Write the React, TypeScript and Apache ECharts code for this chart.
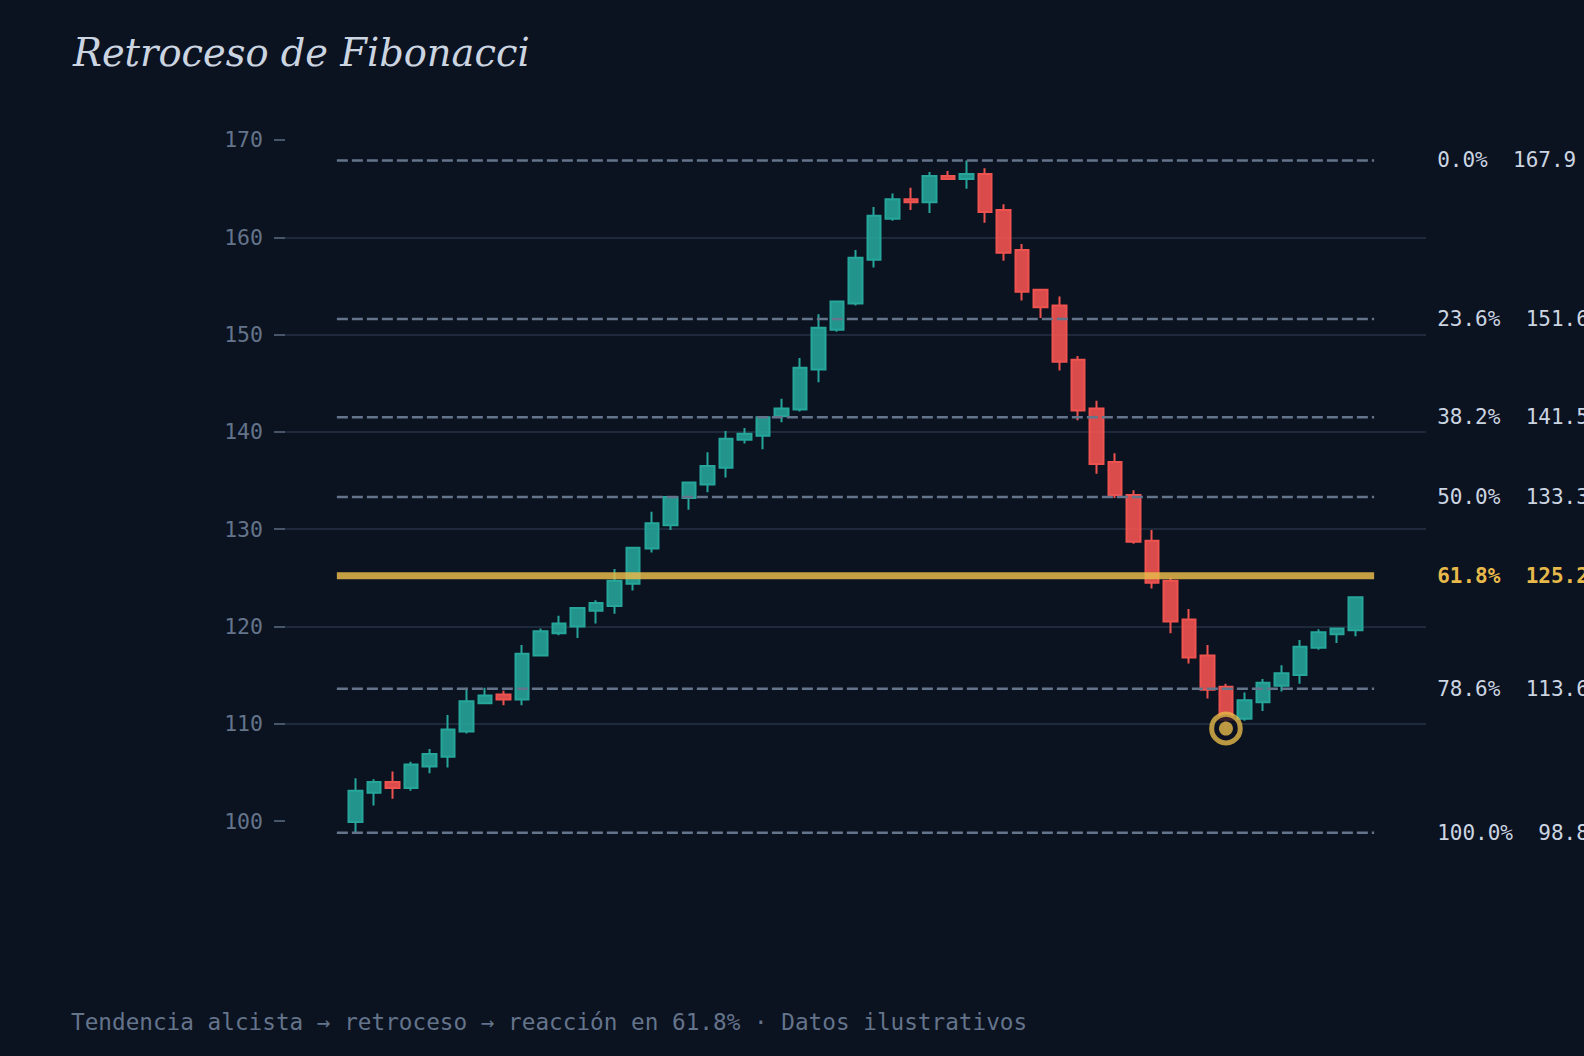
import React, { useEffect, useRef } from "react";
import * as echarts from "echarts";

// Candles (open, close, low, high), one entry per session
const opens = [
  99.9, 102.9, 104.0, 103.4, 105.6, 106.6, 109.2, 112.1, 113.0, 112.5,
  117.0, 119.3, 120.0, 121.6, 122.1, 124.4, 128.0, 130.4, 133.2, 134.6,
  136.3, 139.2, 139.6, 141.6, 142.3, 146.4, 150.5, 153.2, 157.7, 161.9,
  163.9, 163.6, 166.3, 166.0, 166.5, 162.8, 158.7, 154.6, 153.0, 147.4,
  142.4, 136.9, 133.5, 128.8, 124.7, 120.7, 117.0, 113.8, 110.5, 112.2,
  113.9, 115.0, 117.8, 119.2, 119.6,
];
const closes = [
  103.1, 104.0, 103.4, 105.8, 106.9, 109.4, 112.3, 112.9, 112.5, 117.2,
  119.5, 120.3, 121.9, 122.4, 124.7, 128.1, 130.6, 133.3, 134.8, 136.5,
  139.3, 139.8, 141.5, 142.4, 146.6, 150.7, 153.4, 157.9, 162.2, 163.9,
  163.6, 166.3, 166.0, 166.5, 162.6, 158.4, 154.4, 152.8, 147.2, 142.2,
  136.7, 133.5, 128.7, 124.5, 120.5, 116.8, 113.5, 110.4, 112.4, 114.2,
  115.2, 117.9, 119.4, 119.8, 123.0,
];
const lows = [
  98.8, 101.6, 102.3, 103.1, 104.9, 105.5, 109.0, 112.0, 111.9, 111.9,
  116.9, 119.1, 118.8, 120.3, 121.3, 123.7, 127.6, 129.9, 132.0, 133.8,
  135.3, 138.8, 138.2, 141.0, 142.1, 145.1, 150.3, 153.0, 156.9, 161.7,
  162.8, 162.5, 165.9, 165.0, 161.5, 157.6, 153.5, 151.7, 146.3, 141.2,
  135.7, 133.2, 128.5, 123.9, 119.3, 116.2, 112.6, 109.5, 110.3, 111.3,
  113.3, 114.1, 117.6, 118.3, 119.0,
];
const highs = [
  104.4, 104.3, 105.1, 106.1, 107.4, 110.9, 113.7, 113.7, 113.4, 118.1,
  119.8, 121.1, 121.9, 122.7, 125.9, 128.1, 131.8, 133.4, 134.9, 137.9,
  140.1, 140.4, 141.6, 143.4, 147.6, 152.1, 153.5, 158.7, 163.1, 164.5,
  165.1, 166.7, 166.8, 167.9, 167.1, 163.4, 159.3, 154.7, 153.9, 147.8,
  143.2, 137.8, 134.0, 129.9, 125.0, 121.8, 118.1, 114.1, 113.2, 114.6,
  116.0, 118.6, 119.7, 119.9, 123.0,
];

// Fibonacci levels
const fibRatios = ["0.0%", "23.6%", "38.2%", "50.0%", "61.8%", "78.6%", "100.0%"];
const fibPrices = [167.9, 151.6, 141.5, 133.3, 125.2, 113.6, 98.8];
const goldenRatio = "61.8%";

// Y axis tick labels
const yTicks = [100, 110, 120, 130, 140, 150, 160, 170];

// Reaction point marker (candle index, price)
const markerIndex = 47;
const markerPrice = 109.5;

// Level lines span (in candle index units)
const levelStart = -1;
const levelEnd = 55;

const TITLE = "Retroceso de Fibonacci";
const FOOTER = "Tendencia alcista → retroceso → reacción en 61.8% · Datos ilustrativos";

const BG = "#0b1220";
const GOLD = "#e6b94a";
const MONO = "'DejaVu Sans Mono', monospace";

export default function App() {
  const ref = useRef<HTMLDivElement>(null);

  useEffect(() => {
    if (!ref.current) return;
    const chart = echarts.init(ref.current, null, { renderer: "svg" });

    const candleData = opens.map((o, i) => [i, o, closes[i], lows[i], highs[i]]);

    const levelSeries = fibPrices.map((p, k) => {
      const isGold = fibRatios[k] === goldenRatio;
      return {
        type: "line",
        name: fibRatios[k],
        data: [
          [levelStart, p],
          [levelEnd, p],
        ],
        symbol: "none",
        silent: true,
        z: 4,
        lineStyle: isGold
          ? { color: "rgba(230,185,74,0.85)", width: 7, type: "solid" }
          : { color: "#64748b", width: 2.5, type: [11, 4] },
        endLabel: {
          show: true,
          distance: 63,
          formatter: () => `${fibRatios[k]}  ${p.toFixed(1)}`,
          color: isGold ? GOLD : "#cbd5e1",
          fontWeight: isGold ? "bold" : "normal",
          fontFamily: MONO,
          fontSize: 21,
        },
      };
    });

    chart.setOption({
      animation: false,
      backgroundColor: BG,
      grid: { left: 285, width: 1141, top: 42.7, height: 875.6 },
      xAxis: { type: "value", min: -3.8, max: 57.8, show: false },
      yAxis: {
        type: "value",
        position: "left",
        min: 90,
        max: 180,
        interval: 10,
        axisLine: { show: false, onZero: false },
        axisTick: {
          show: true,
          inside: false,
          length: 11,
          lineStyle: { color: "#475569", width: 2 },
          customValues: yTicks,
        },
        axisLabel: {
          customValues: yTicks,
          color: "#64748b",
          fontFamily: MONO,
          fontSize: 21.5,
          margin: 22,
          formatter: (v: number) => (yTicks.indexOf(v) >= 0 ? String(v) : ""),
        },
        splitLine: {
          show: true,
          showMinLine: false,
          showMaxLine: false,
          lineStyle: { color: "#1e293b", width: 2 },
        },
      },
      graphic: [
        {
          type: "text",
          x: 73,
          y: 52.5,
          style: {
            text: TITLE,
            fontFamily: "'DejaVu Serif', serif",
            fontStyle: "italic",
            fontSize: 38.4,
            fill: "#cbd5e1",
            verticalAlign: "middle",
            align: "left",
          },
        },
        {
          type: "text",
          x: 71,
          y: 1022,
          style: {
            text: FOOTER,
            fontFamily: MONO,
            fontSize: 22.7,
            fill: "#64748b",
            verticalAlign: "middle",
            align: "left",
          },
        },
      ],
      series: [
        {
          type: "candlestick",
          data: candleData,
          barWidth: 14,
          z: 3,
          itemStyle: {
            color: "rgba(38,166,154,0.88)",
            color0: "rgba(239,83,80,0.9)",
            borderColor: "#26a69a",
            borderColor0: "#ef5350",
            borderWidth: 2,
          },
        },
        ...levelSeries,
        {
          type: "scatter",
          data: [[markerIndex, markerPrice]],
          symbol: "circle",
          symbolSize: 28.6,
          silent: true,
          z: 6,
          itemStyle: { color: BG, borderColor: GOLD, borderWidth: 5 },
        },
        {
          type: "scatter",
          data: [[markerIndex, markerPrice]],
          symbol: "circle",
          symbolSize: 14,
          silent: true,
          z: 7,
          itemStyle: { color: GOLD },
        },
      ],
    });

    return () => chart.dispose();
  }, []);

  return (
    <div
      ref={ref}
      style={{
        position: "fixed",
        left: 0,
        top: 0,
        width: 1584,
        height: 1056,
        background: BG,
      }}
    />
  );
}
